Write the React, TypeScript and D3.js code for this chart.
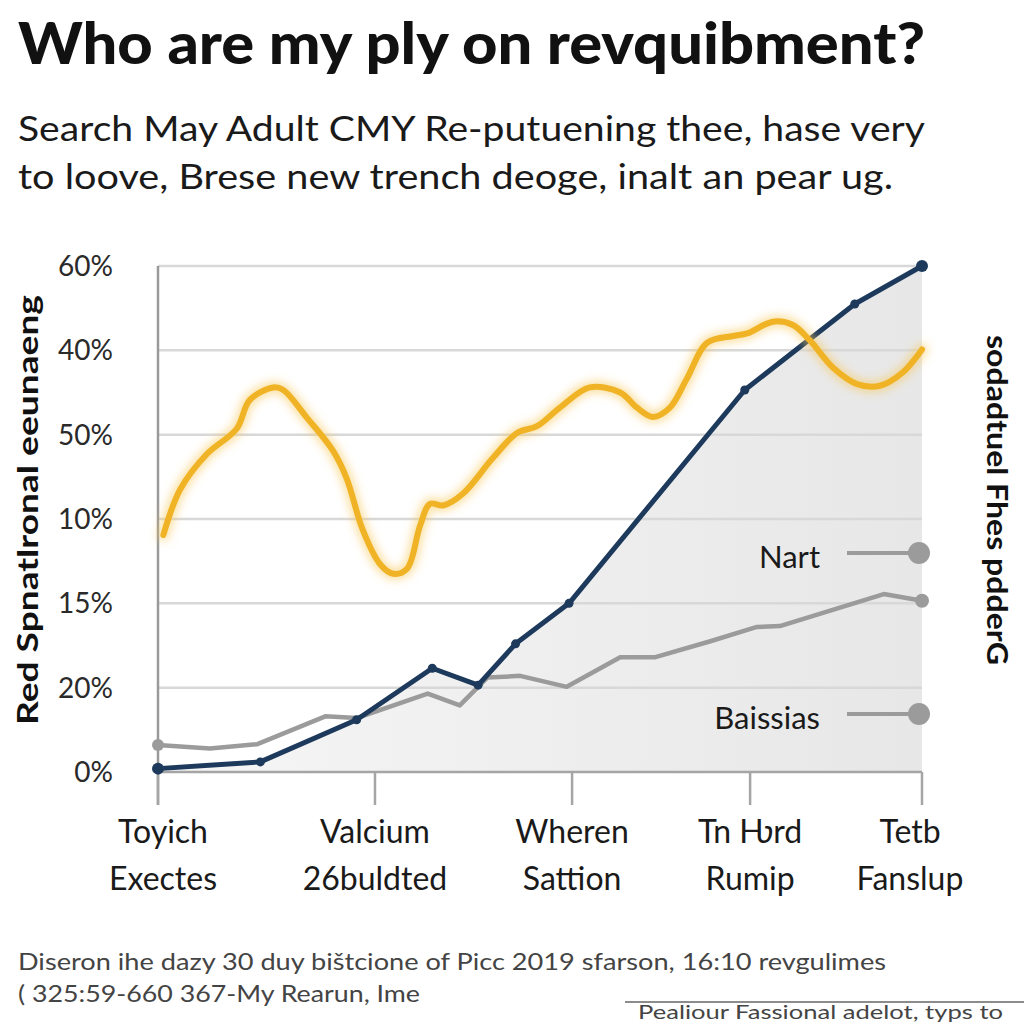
import React from "react";
import * as d3 from "d3";

const title = "Who are my ply on revquibment?";
const subtitleLines = [
  "Search May Adult CMY Re-putuening thee, hase very",
  "to loove, Brese new trench deoge, inalt an pear ug.",
];
const yTickLabels = ["0%", "20%", "15%", "10%", "50%", "40%", "60%"];
const yTickValues = [0, 1, 2, 3, 4, 5, 6];
const xCategories = [
  ["Toyich", "Exectes"],
  ["Valcium", "26buldted"],
  ["Wheren", "Sattion"],
  ["Tn Ƕrd", "Rumip"],
  ["Tetb", "Fanslup"],
];
const xCategoryPos = [0, 28.4, 54.2, 77.5, 100];
const leftAxisTitle = "Red Spnatlronal eeunaeng";
const rightAxisTitle = "sodadtuel Fhes pdderG";
const legendLabels = ["Nart", "Baissias"];
const footerLines = [
  "Diseron ihe dazy 30 duy bištcione of Picc 2019 sfarson, 16:10 revgulimes",
  "( 325:59-660 367-My Rearun, Ime",
];
const footerNote = "Pealiour Fassional adelot, typs to";

// navy series
const navyX = [0, 13.4, 26, 35.9, 41.9, 46.8, 53.8, 76.8, 91.2, 100];
const navyY = [0.04, 0.12, 0.62, 1.23, 1.03, 1.52, 2.0, 4.53, 5.55, 6.0];

// gray series
const grayX = [0, 6.8, 13, 21.9, 26, 35.3, 39.5, 43.1, 47.4, 53.5, 60.5, 65, 72.3, 78.4, 81.4, 95, 100];
const grayY = [0.32, 0.28, 0.33, 0.66, 0.64, 0.93, 0.79, 1.12, 1.14, 1.01, 1.36, 1.36, 1.55, 1.72, 1.73, 2.11, 2.03];

// yellow series
const yellowX = [0.7, 2.9, 6.4, 10.3, 12.0, 15.1, 16.4, 19.5, 22.9, 24.7, 26.8, 29.1, 30.8, 32.6, 34.3, 35.6, 37.3, 39.9, 43.8, 47.0, 49.6, 52.6, 56.5, 60.5, 62.7, 64.8, 67.0, 69.2, 71.9, 75.3, 77.1, 80.5, 83.1, 85.3, 88.4, 91.5, 94.5, 97.5, 100];
const yellowY = [2.81, 3.35, 3.77, 4.07, 4.41, 4.56, 4.53, 4.2, 3.81, 3.48, 2.87, 2.46, 2.35, 2.41, 2.92, 3.18, 3.16, 3.3, 3.72, 4.02, 4.1, 4.32, 4.56, 4.5, 4.32, 4.21, 4.32, 4.66, 5.09, 5.17, 5.2, 5.34, 5.3, 5.12, 4.79, 4.6, 4.58, 4.74, 5.01];

const FONT = "Lato, 'Open Sans', sans-serif";

export default function App() {
  const left = 158, right = 922, top = 266, bottom = 772;
  const x = d3.scaleLinear().domain([0, 100]).range([left, right]);
  const y = d3.scaleLinear().domain([0, 6]).range([bottom, top]);

  const navy = navyX.map((v, i) => [v, navyY[i]] as [number, number]);
  const gray = grayX.map((v, i) => [v, grayY[i]] as [number, number]);
  const yellow = yellowX.map((v, i) => [v, yellowY[i]] as [number, number]);

  const line = d3.line<[number, number]>().x((d) => x(d[0])).y((d) => y(d[1]));
  const smooth = d3
    .line<[number, number]>()
    .x((d) => x(d[0]))
    .y((d) => y(d[1]))
    .curve(d3.curveCatmullRom.alpha(0.5));
  const area = d3
    .area<[number, number]>()
    .x((d) => x(d[0]))
    .y0(y(0))
    .y1((d) => y(d[1]));

  const navyColor = "#1d3a5c";
  const grayColor = "#9b9b9b";
  const yellowColor = "#f0b326";

  return (
    <svg width={1024} height={1024} style={{ position: "absolute", left: 0, top: 0, background: "#fff" }}>
      <defs>
        <linearGradient id="shade" x1="0" x2="1" y1="0" y2="0">
          <stop offset="0%" stopColor="#f6f6f6" />
          <stop offset="100%" stopColor="#e7e7e7" />
        </linearGradient>
        <filter id="glow" x="-10%" y="-10%" width="120%" height="120%">
          <feGaussianBlur stdDeviation="4" />
        </filter>
      </defs>
      <rect x={0} y={0} width={1024} height={1024} fill="#ffffff" />

      {/* title */}
      <text x={18} y={64} fontFamily={FONT} fontWeight={900} fontSize={58} fill="#111" textLength={907} lengthAdjust="spacingAndGlyphs">
        {title}
      </text>
      {subtitleLines.map((t, i) => (
        <text key={i} x={18} y={141 + i * 48} fontFamily={FONT} fontSize={34} fill="#1a1a1a" textLength={i === 0 ? 907 : 875} lengthAdjust="spacingAndGlyphs">
          {t}
        </text>
      ))}

      {/* shaded area under navy */}
      <path d={area(navy) || ""} fill="url(#shade)" />

      {/* gridlines */}
      {yTickValues.slice(1).map((v) => (
        <line key={v} x1={left} x2={right} y1={y(v)} y2={y(v)} stroke="#d8d8d8" strokeWidth={2.5} />
      ))}

      {/* axes */}
      <line x1={left} x2={left} y1={top} y2={805} stroke="#9a9a9a" strokeWidth={2.5} />
      <line x1={left} x2={right} y1={bottom} y2={bottom} stroke="#a5a5a5" strokeWidth={2.5} />
      {xCategoryPos.map((p, i) => (
        <line key={i} x1={x(p)} x2={x(p)} y1={bottom} y2={805} stroke="#a5a5a5" strokeWidth={2.5} />
      ))}

      {/* y tick labels */}
      {yTickValues.map((v, i) => (
        <text key={v} x={113} y={y(v) + 10} textAnchor="end" fontFamily={FONT} fontSize={28} fill="#2a2a2a">
          {yTickLabels[i]}
        </text>
      ))}

      {/* x labels */}
      {xCategories.map((lines, i) => (
        <g key={i}>
          {lines.map((t, j) => (
            <text
              key={j}
              x={x(xCategoryPos[i]) + (i === 0 ? 5 : i === 4 ? -12 : 0)}
              y={843 + j * 47}
              textAnchor="middle"
              fontFamily={FONT}
              fontSize={32}
              fill="#1a1a1a"
            >
              {t}
            </text>
          ))}
        </g>
      ))}

      {/* gray line */}
      <path d={line(gray) || ""} fill="none" stroke={grayColor} strokeWidth={4.5} strokeLinejoin="round" />
      <circle cx={x(gray[0][0])} cy={y(gray[0][1])} r={6} fill={grayColor} />
      <circle cx={x(gray[gray.length - 1][0])} cy={y(gray[gray.length - 1][1])} r={7} fill={grayColor} />

      {/* navy line */}
      <path d={line(navy) || ""} fill="none" stroke={navyColor} strokeWidth={5} strokeLinejoin="round" />
      {navy.map((d, i) => (
        <circle key={i} cx={x(d[0])} cy={y(d[1])} r={i === 0 || i === navy.length - 1 ? 6 : 4.5} fill={navyColor} />
      ))}

      {/* yellow line with glow */}
      <path d={smooth(yellow) || ""} fill="none" stroke="#f7c95a" strokeWidth={12} strokeOpacity={0.55} filter="url(#glow)" strokeLinecap="round" />
      <path d={smooth(yellow) || ""} fill="none" stroke={yellowColor} strokeWidth={6} strokeLinecap="round" strokeLinejoin="round" />

      {/* legend */}
      {legendLabels.map((t, i) => {
        const ly = i === 0 ? 553 : 714;
        return (
          <g key={t}>
            <text x={820} y={ly + 15} textAnchor="end" fontFamily={FONT} fontSize={31} fill="#1a1a1a">
              {t}
            </text>
            <line x1={847} x2={918} y1={ly} y2={ly} stroke={grayColor} strokeWidth={4} />
            <circle cx={919} cy={ly} r={11} fill={grayColor} />
          </g>
        );
      })}

      {/* left axis title */}
      <text
        transform={`translate(38, 510) rotate(-90)`}
        textAnchor="middle"
        fontFamily={FONT}
        fontWeight={700}
        fontSize={28}
        fill="#111"
        textLength={430}
        lengthAdjust="spacingAndGlyphs"
      >
        {leftAxisTitle}
      </text>

      {/* right axis title */}
      <text
        transform={`translate(987, 500) rotate(90)`}
        textAnchor="middle"
        fontFamily={FONT}
        fontWeight={700}
        fontSize={28}
        fill="#111"
        textLength={330}
        lengthAdjust="spacingAndGlyphs"
      >
        {rightAxisTitle}
      </text>

      {/* footer */}
      {footerLines.map((t, i) => (
        <text key={i} x={18} y={970 + i * 32} fontFamily={FONT} fontSize={23} fill="#444" textLength={i === 0 ? 868 : 402} lengthAdjust="spacingAndGlyphs">
          {t}
        </text>
      ))}
      <line x1={625} x2={1024} y1={1002} y2={1002} stroke="#666" strokeWidth={1.5} />
      <text x={638} y={1019} fontFamily={FONT} fontSize={19} fill="#444" textLength={365} lengthAdjust="spacingAndGlyphs">
        {footerNote}
      </text>
    </svg>
  );
}
